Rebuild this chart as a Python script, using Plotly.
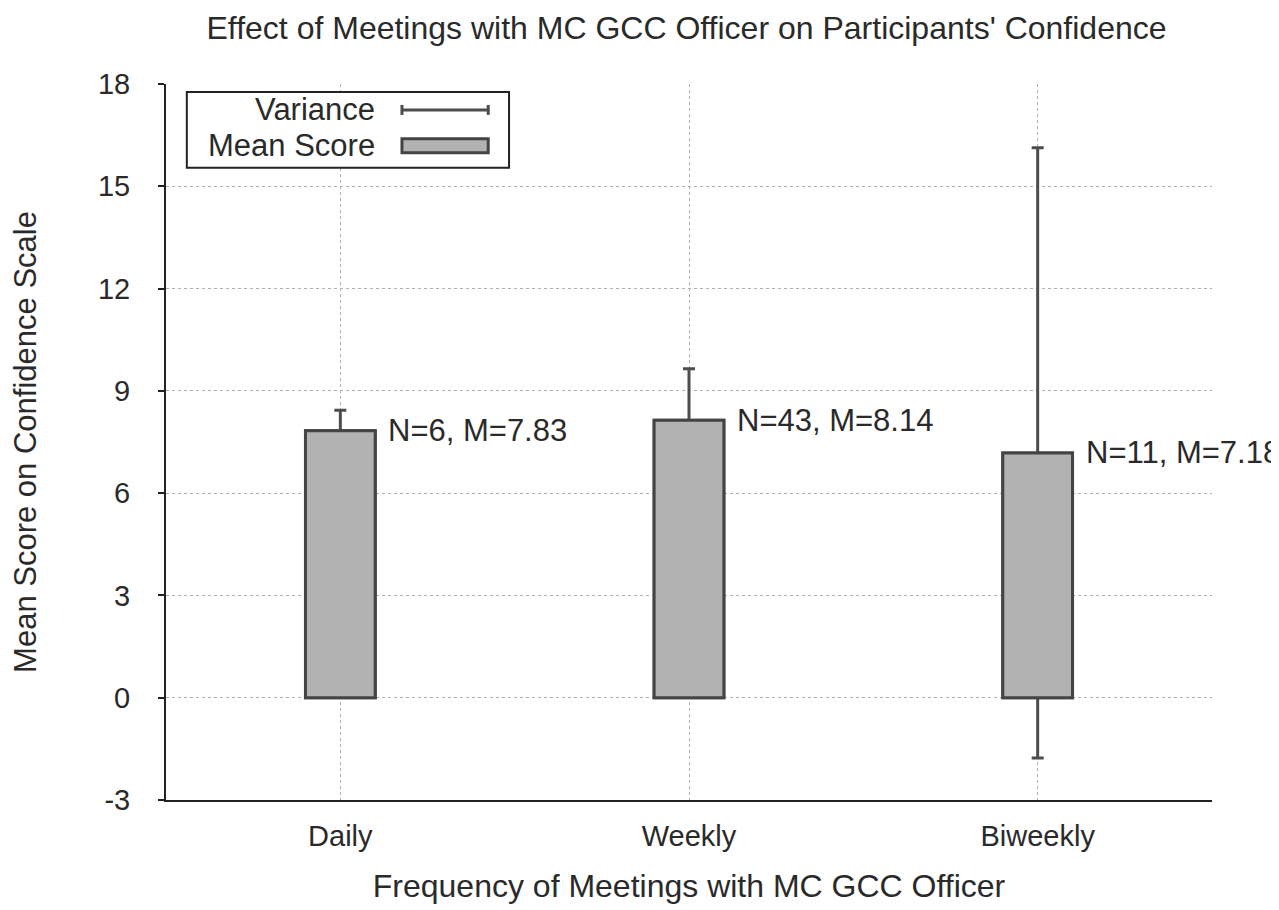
import plotly.graph_objects as go

categories = ["Daily", "Weekly", "Biweekly"]
mean_scores = [7.83, 8.14, 7.18]
variances = [0.6, 1.51, 8.95]
n_counts = [6, 43, 11]
y_ticks = [-3, 0, 3, 6, 9, 12, 15, 18]

# The page body adds an 8px margin, so the figure is sized to fill the rest
OFF = 8
W, H = 1279 - OFF, 910 - OFF
# plot area in page pixel coordinates
PL, PR, PT, PB = 157, 1212, 84, 802
L, R, T, B = PL - OFF, W - (PR - OFF), PT - OFF, H - (PB - OFF)
PW, PH = PR - PL, PB - PT


def px(x):
    return (x - PL) / PW


def py(y):
    return (PB - y) / PH


BAR_FILL = "#b2b2b2"
BAR_LINE = "#444444"
ERR_COLOR = "#4d4d4d"
TXT = "#2a2a2a"
FONT = "Liberation Sans, Arial, sans-serif"

fig = go.Figure()
# Bars with error bars (drawn underneath)
fig.add_trace(go.Bar(
    x=categories, y=mean_scores, width=0.2,
    marker=dict(color=BAR_FILL, line=dict(color=BAR_LINE, width=3)),
    error_y=dict(type="data", array=variances, visible=True,
                 color=ERR_COLOR, thickness=3, width=6),
    showlegend=False, hoverinfo="skip",
))
# Bars on top to hide the part of the error bar inside the bars
fig.add_trace(go.Bar(
    x=categories, y=mean_scores, width=0.2,
    marker=dict(color=BAR_FILL, line=dict(color=BAR_LINE, width=3)),
    showlegend=False,
))

annotations = []
for c, m, n in zip(categories, mean_scores, n_counts):
    annotations.append(dict(
        x=c, y=m, xref="x", yref="y", text=f"N={n}, M={m:.2f}",
        showarrow=False, xanchor="left", yanchor="middle", xshift=46,
        font=dict(family=FONT, size=31, color=TXT),
    ))

# Custom legend (text left, symbol right)
shapes = [
    dict(type="rect", xref="paper", yref="paper", x0=px(178), x1=px(503), y0=py(168), y1=py(92),
         line=dict(color="#222222", width=2), fillcolor="white", layer="above"),
    dict(type="line", xref="paper", yref="paper", x0=px(394), x1=px(483), y0=py(110), y1=py(110),
         line=dict(color=ERR_COLOR, width=3), layer="above"),
    dict(type="line", xref="paper", yref="paper", x0=px(395), x1=px(395), y0=py(105), y1=py(115),
         line=dict(color=ERR_COLOR, width=3), layer="above"),
    dict(type="line", xref="paper", yref="paper", x0=px(482), x1=px(482), y0=py(105), y1=py(115),
         line=dict(color=ERR_COLOR, width=3), layer="above"),
    dict(type="rect", xref="paper", yref="paper", x0=px(395), x1=px(482), y0=py(153), y1=py(139),
         line=dict(color=BAR_LINE, width=3), fillcolor=BAR_FILL, layer="above"),
]
for label, yy in [("Variance", 110), ("Mean Score", 146)]:
    annotations.append(dict(
        x=px(370), y=py(yy), xref="paper", yref="paper", text=label, showarrow=False,
        xanchor="right", yanchor="middle",
        font=dict(family=FONT, size=31, color=TXT),
    ))

fig.update_layout(
    width=W, height=H,
    margin=dict(l=L, r=R, t=T, b=B),
    paper_bgcolor="white", plot_bgcolor="white",
    barmode="overlay",
    title=dict(text="Effect of Meetings with MC GCC Officer on Participants' Confidence",
               xref="paper", x=px(682), xanchor="center",
               y=1 - (28 - OFF) / H, yanchor="middle",
               font=dict(family=FONT, size=32, color=TXT)),
    xaxis=dict(
        type="category", range=[-0.5, 2.5],
        showgrid=True, gridcolor="#b0b0b0", griddash="dot", gridwidth=1,
        showline=True, linecolor="#222222", linewidth=2,
        ticks="", ticklabelstandoff=9,
        tickfont=dict(family=FONT, size=29, color=TXT),
        title=dict(text="Frequency of Meetings with MC GCC Officer", standoff=24,
                   font=dict(family=FONT, size=32, color=TXT)),
        zeroline=False,
    ),
    yaxis=dict(
        range=[-3, 18], tickvals=y_ticks, ticktext=[str(v) for v in y_ticks],
        showgrid=True, gridcolor="#b0b0b0", griddash="dot", gridwidth=1,
        showline=True, linecolor="#222222", linewidth=2,
        ticks="outside", ticklen=6, tickwidth=2, tickcolor="#222222",
        ticklabelstandoff=22,
        tickfont=dict(family=FONT, size=29, color=TXT),
        title=dict(text="Mean Score on Confidence Scale", standoff=56,
                   font=dict(family=FONT, size=31, color=TXT)),
        zeroline=False,
    ),
    shapes=shapes,
    annotations=annotations,
)

fig.write_html("out.html")
